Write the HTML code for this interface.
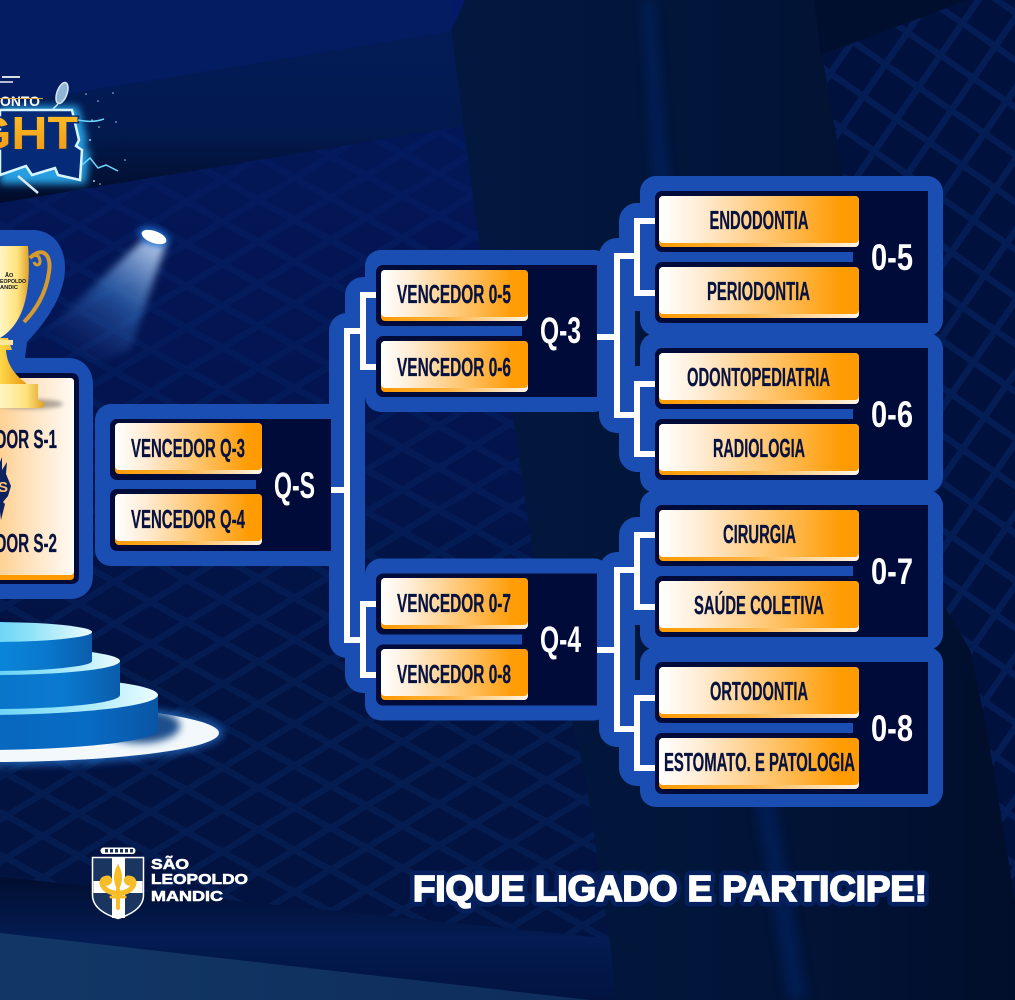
<!DOCTYPE html>
<html lang="pt"><head><meta charset="utf-8"><title>Chaveamento</title>
<style>html,body{margin:0;padding:0;background:#021242}svg{display:block}
text{font-family:"Liberation Sans",sans-serif;font-weight:700}</style></head>
<body>
<svg xmlns="http://www.w3.org/2000/svg" width="1015" height="1000" viewBox="0 0 1015 1000">
<defs>
<pattern id="p2" width="10" height="10" patternUnits="userSpaceOnUse" patternTransform="matrix(3.6,2.0,3.6,-2.2,216,600)"><rect width="10" height="10" fill="#021241"/><rect width="10" height="1.8" fill="#041c50"/><rect width="1.8" height="10" fill="#041c50"/></pattern>
<pattern id="p3" width="10" height="10" patternUnits="userSpaceOnUse" patternTransform="matrix(3.3,2.3,2.2,-3.2,958,308)"><rect width="10" height="10" fill="#01113e"/><rect width="10" height="1.6" fill="#041d54"/><rect width="1.6" height="10" fill="#041d54"/></pattern>
<linearGradient id="lift" x1="0" y1="0" x2="0" y2="1"><stop offset="0" stop-color="#04196a" stop-opacity=".55"/><stop offset=".45" stop-color="#04196a" stop-opacity=".4"/><stop offset="1" stop-color="#04196a" stop-opacity="0"/></linearGradient>
<linearGradient id="col" x1="0" y1="0" x2="1" y2="0"><stop offset="0" stop-color="#03183f"/><stop offset=".5" stop-color="#021539"/><stop offset="1" stop-color="#010e2b"/></linearGradient>
<linearGradient id="beam" x1="0" y1="0" x2="0" y2="1"><stop offset="0" stop-color="#031c58"/><stop offset=".6" stop-color="#021a4e"/><stop offset="1" stop-color="#020c2a"/></linearGradient>
<linearGradient id="beam2" x1="0" y1="0" x2="0" y2="1"><stop offset="0" stop-color="#020e30"/><stop offset=".5" stop-color="#031c52"/><stop offset="1" stop-color="#021340"/></linearGradient>
<linearGradient id="floor" x1="0" y1="0" x2="1" y2="0"><stop offset="0" stop-color="#123766"/><stop offset="1" stop-color="#0e2d5c"/></linearGradient>
<linearGradient id="bg" gradientUnits="objectBoundingBox" x1="0" y1="0" x2="1" y2="0"><stop offset="0" stop-color="#fff"/><stop offset=".2" stop-color="#ffedd6"/><stop offset=".65" stop-color="#ffba52"/><stop offset=".9" stop-color="#ff9c05"/><stop offset="1" stop-color="#ff9a00"/></linearGradient>
<linearGradient id="bg2" x1="0" y1="0" x2="1" y2="0"><stop offset="0" stop-color="#ff9a00"/><stop offset=".45" stop-color="#ffb340"/><stop offset="1" stop-color="#fff6ea"/></linearGradient>
<linearGradient id="card" gradientUnits="userSpaceOnUse" x1="-40" y1="0" x2="74" y2="0"><stop offset="0" stop-color="#ffb95a"/><stop offset=".6" stop-color="#ffe2bd"/><stop offset="1" stop-color="#fffaf4"/></linearGradient>
<linearGradient id="gold" x1="0" y1="0" x2="1" y2="0"><stop offset="0" stop-color="#fff6c4"/><stop offset=".6" stop-color="#ffe27c"/><stop offset="1" stop-color="#e0a227"/></linearGradient>
<linearGradient id="gold2" x1="0" y1="0" x2="1" y2="0"><stop offset="0" stop-color="#ffd84a"/><stop offset="1" stop-color="#e89a12"/></linearGradient>
<linearGradient id="t1" gradientUnits="userSpaceOnUse" x1="-20" y1="0" x2="92" y2="0"><stop offset="0" stop-color="#0a8ae0"/><stop offset=".6" stop-color="#0a78cc"/><stop offset="1" stop-color="#0b5cab"/></linearGradient>
<linearGradient id="t2" gradientUnits="userSpaceOnUse" x1="-20" y1="0" x2="120" y2="0"><stop offset="0" stop-color="#0a74c8"/><stop offset=".6" stop-color="#0a7ad0"/><stop offset="1" stop-color="#0b5cab"/></linearGradient>
<linearGradient id="t3" gradientUnits="userSpaceOnUse" x1="-20" y1="0" x2="158" y2="0"><stop offset="0" stop-color="#0866bd"/><stop offset=".6" stop-color="#086cc4"/><stop offset="1" stop-color="#0a55a5"/></linearGradient>
<linearGradient id="top" x1="0" y1="0" x2="1" y2="0"><stop offset=".3" stop-color="#38c0f5"/><stop offset=".7" stop-color="#8fe2f8"/><stop offset="1" stop-color="#eafcff"/></linearGradient>
<linearGradient id="cone" gradientUnits="userSpaceOnUse" x1="150" y1="240" x2="70" y2="355"><stop offset="0" stop-color="#cfe4ff" stop-opacity=".85"/><stop offset=".5" stop-color="#3a7fd4" stop-opacity=".5"/><stop offset="1" stop-color="#3050b0" stop-opacity="0"/></linearGradient>
<linearGradient id="tt" x1="0" y1="0" x2="0" y2="1"><stop offset="0" stop-color="#ffc12b"/><stop offset="1" stop-color="#f09512"/></linearGradient>
<filter id="b4" x="-50%" y="-50%" width="200%" height="200%"><feGaussianBlur stdDeviation="4"/></filter>
<filter id="b2" x="-50%" y="-50%" width="200%" height="200%"><feGaussianBlur stdDeviation="2"/></filter>
<filter id="b5" x="-100%" y="-20%" width="300%" height="140%"><feGaussianBlur stdDeviation="5"/></filter>
<clipPath id="floorclip"><ellipse cx="-10" cy="733" rx="229" ry="29"/></clipPath>
<g id="b200"><rect width="200" height="51" rx="4" fill="url(#bg2)"/><rect width="200" height="47" rx="4" fill="url(#bg)"/></g>
<g id="b147"><rect width="147" height="51" rx="4" fill="url(#bg2)"/><rect width="147" height="47" rx="4" fill="url(#bg)"/></g>
<g id="grp8">
<rect x="640" y="176" width="303" height="160" rx="16" fill="#1b4eb3"/>
<rect x="655" y="191" width="210" height="61" rx="7" fill="#010b39"/>
<rect x="655" y="262" width="210" height="61" rx="7" fill="#010b39"/>
<rect x="853" y="191" width="75" height="132" fill="#010b39"/>
</g>
<g id="grpQ">
<rect x="365" y="250" width="245" height="162" rx="16" fill="#1b4eb3"/>
<rect x="376" y="265" width="160" height="61" rx="7" fill="#010b39"/>
<rect x="376" y="336" width="160" height="61" rx="7" fill="#010b39"/>
<rect x="522" y="265" width="75" height="132" fill="#010b39"/>
</g>
</defs>

<!-- background -->
<rect width="1015" height="1000" fill="url(#p2)"/>
<rect x="0" y="100" width="620" height="580" fill="url(#lift)"/>
<rect x="0" y="0" width="500" height="110" fill="#04196a"/>
<polygon points="815,0 1015,0 1015,1000 815,1000" fill="url(#p3)"/>
<polygon points="0,105 470,27 470,125 0,203" fill="url(#beam)"/>
<polygon points="0,0 452,0 452,31 0,105" fill="#041c62"/>
<polygon points="0,877 625,940 625,1000 0,1000" fill="url(#beam2)"/>
<polygon points="0,933 590,1000 0,1000" fill="url(#floor)"/>
<polygon points="465,0 814,0 822,55 843,175 870,350 935,590 970,650 985,720 997,790 1015,900 1015,1000 615,1000 611,950 586,780 534,560 512,412 480,250 451,30" fill="url(#col)"/>
<polygon points="814,0 968,0 821,55" fill="#010f2f"/>
<polygon points="642,0 654,0 668,170 808,1000 788,1000 652,170" fill="#06276c" opacity=".5" filter="url(#b5)"/>

<!-- spotlight -->
<polygon points="143,240 166,244 130,350 62,375 30,345" fill="url(#cone)" filter="url(#b4)"/>
<ellipse cx="154" cy="237" rx="16" ry="8" transform="rotate(20 154 237)" fill="#2d8dff" opacity=".8" filter="url(#b4)"/>
<ellipse cx="154" cy="237" rx="13" ry="6" transform="rotate(20 154 237)" fill="#fff"/>

<!-- podium -->
<ellipse cx="0" cy="733" rx="224" ry="33" fill="#2b86ea" opacity=".6" filter="url(#b4)"/>
<ellipse cx="-10" cy="733" rx="229" ry="29" fill="#f2f8fc"/>
<g clip-path="url(#floorclip)"><ellipse cx="140" cy="726" rx="40" ry="17" fill="#1d4f8c" filter="url(#b4)"/></g>
<rect x="-198" y="695" width="356" height="35" fill="url(#t3)"/>
<ellipse cx="-20" cy="730" rx="178" ry="20" fill="url(#t3)"/>
<ellipse cx="-20" cy="695" rx="178" ry="20" fill="url(#top)"/>
<rect x="-130" y="661" width="250" height="34" fill="url(#t2)"/>
<ellipse cx="-5" cy="695" rx="125" ry="14" fill="url(#t2)"/>
<ellipse cx="-5" cy="661" rx="125" ry="14" fill="url(#top)"/>
<rect x="-112" y="632" width="204" height="29" fill="url(#t1)"/>
<ellipse cx="-10" cy="661" rx="102" ry="10" fill="url(#t1)"/>
<ellipse cx="-10" cy="632" rx="102" ry="10" fill="url(#top)"/>

<!-- top-left emblem -->
<g>
<polygon points="0,106 78,106 87,140 84,150 90,150 86,184 0,184" fill="#2fb8ff" opacity=".85" filter="url(#b4)"/>
<polygon points="0,110 72,110 79,140 76,146 82,150 80,180 58,175 55,168 32,175 26,166 0,175" fill="#052a78" stroke="#d5f6ff" stroke-width="2.5"/>
<text x="0" y="106" font-size="14" fill="#fff" textLength="40" lengthAdjust="spacingAndGlyphs">ONTO</text>
<rect x="0" y="98" width="43" height="1" fill="#d8a23a"/>
<text x="-72" y="149" font-size="46" fill="url(#tt)" stroke="#0a2f70" stroke-width="3" paint-order="stroke" textLength="150" lengthAdjust="spacingAndGlyphs">FIGHT</text>
<rect x="2" y="76" width="18" height="2" fill="#fff" opacity=".85"/>
<rect x="0" y="81" width="13" height="2" fill="#fff" opacity=".7"/>
<ellipse cx="62" cy="93" rx="5" ry="11" transform="rotate(20 62 93)" fill="#8fb5d6" stroke="#dde8f2" stroke-width="1.5"/>
<path d="M58,104 L52,110" stroke="#bfefff" stroke-width="1.5"/>
<path d="M18,176 L38,193" stroke="#d8e8f0" stroke-width="2.5"/>
<path d="M78,120 C88,122 95,122 104,119 M82,165 L90,158 L98,168 L106,165 L118,171" stroke="#6cd4ff" stroke-width="1.5" fill="none"/>
<g fill="#a9cdea"><circle cx="92" cy="120" r=".8"/><circle cx="99" cy="127" r=".8"/><circle cx="113" cy="93" r=".8"/><circle cx="98" cy="101" r=".8"/><circle cx="116" cy="122" r=".8"/><circle cx="90" cy="140" r="1"/><circle cx="125" cy="160" r=".8"/><circle cx="94" cy="181" r="1"/><circle cx="100" cy="184" r=".8"/><circle cx="86" cy="94" r=".8"/></g>
</g>

<!-- trophy and final -->
<path d="M0,230 H35 C55,232 65,248 65,268 C65,292 50,318 27,342 L25,358 H68 C84,358 93,370 93,385 V575 C93,590 84,599 70,599 H0 Z" fill="#1b4eb3"/>
<path d="M0,373 H71 Q79,373 79,381 V576 Q79,584 71,584 H0 Z" fill="#010b39"/>
<path d="M0,378 H70 Q74,378 74,382 V576 Q74,580 70,580 H0 Z" fill="#ff9a00"/>
<path d="M0,378 H70 Q74,378 74,382 V571 Q74,575 70,575 H0 Z" fill="url(#card)"/>
<text x="-57" y="448" font-size="26" fill="#07123f" stroke="#07123f" stroke-width=".3" textLength="114" lengthAdjust="spacingAndGlyphs">VENCEDOR S-1</text>
<text x="-57" y="552" font-size="26" fill="#07123f" stroke="#07123f" stroke-width=".3" textLength="114" lengthAdjust="spacingAndGlyphs">VENCEDOR S-2</text>
<polygon points="0,462 2,457 2,470 7,462 6,474 11,486 8,496 3,502 5,504 1,520 0,512" fill="#0d2260"/>
<text x="-2" y="492" font-size="15" fill="#ffc66f">S</text>
<ellipse cx="30" cy="404" rx="33" ry="5" fill="#6b6560" opacity=".55" filter="url(#b2)"/>
<path d="M30,258 C42,246 52,254 49,272 C46,295 34,312 24,322" fill="none" stroke="#d69a2e" stroke-width="4"/>
<path d="M30,258 C34,254 40,254 40,262 C40,266 35,266 34,262" fill="none" stroke="#d69a2e" stroke-width="3"/>
<path d="M0,246 H28 C31,285 27,322 0,338 Z" fill="url(#gold)"/>
<path d="M0,338 H8 L12,350 H6 C7,365 15,375 26,383 L26,388 H0 Z" fill="url(#gold2)"/>
<rect x="0" y="340" width="13" height="5" fill="#ffe79a"/>
<path d="M0,384 H38 V400 L44,402 V406 Q44,408 38,408 H0 Z" fill="url(#gold)"/>
<text x="5" y="277" font-size="5.5" fill="#111">ÃO</text>
<text x="0" y="283" font-size="5.5" fill="#111" textLength="26" lengthAdjust="spacingAndGlyphs">EOPOLDO</text>
<text x="0" y="289" font-size="5.5" fill="#111" textLength="18" lengthAdjust="spacingAndGlyphs">ANDIC</text>

<!-- connector blue backings -->
<g fill="none" stroke="#1b4eb3" stroke-width="36" stroke-linejoin="round">
<path d="M597,337 H617 M635,256 H617 V415 H635 M655,221 H637 V293 H655 M655,384 H637 V454 H655"/>
<path d="M597,651 H617 M635,570 H617 V729 H635 M655,535 H637 V607 H655 M655,698 H637 V768 H655"/>
<path d="M331,490 H347 M363,331 H347 V640 H363 M376,295 H363 V367 H376 M376,604 H363 V675 H376"/>
</g>

<use href="#grp8"/>
<use href="#grp8" y="157"/>
<use href="#grp8" y="314"/>
<use href="#grp8" y="471"/>
<use href="#grpQ"/>
<use href="#grpQ" y="308.5"/>

<!-- Q-S group -->
<rect x="95" y="404" width="250" height="162" rx="16" fill="#1b4eb3"/>
<rect x="110" y="419" width="160" height="61" rx="7" fill="#010b39"/>
<rect x="110" y="489" width="160" height="62" rx="7" fill="#010b39"/>
<rect x="256" y="419" width="75" height="132" fill="#010b39"/>

<!-- white connectors -->
<g fill="none" stroke="#fff" stroke-width="6" stroke-linejoin="miter">
<path d="M597,337 H617 M635,256 H617 V415 H635 M655,221 H637 V293 H655 M655,384 H637 V454 H655"/>
<path d="M597,650 H617 M635,570 H617 V729 H635 M655,535 H637 V607 H655 M655,698 H637 V768 H655"/>
<path d="M331,490 H347 M360,331 H347 V640 H360 M376,295 H363 V367 H376 M376,604 H363 V675 H376"/>
</g>

<!-- buttons -->
<use href="#b200" x="659" y="196"/><use href="#b200" x="659" y="267"/>
<use href="#b200" x="659" y="353"/><use href="#b200" x="659" y="424"/>
<use href="#b200" x="659" y="510"/><use href="#b200" x="659" y="581"/>
<use href="#b200" x="659" y="667"/><use href="#b200" x="659" y="738"/>
<use href="#b147" x="381" y="270"/><use href="#b147" x="381" y="341"/>
<use href="#b147" x="381" y="578"/><use href="#b147" x="381" y="649"/>
<use href="#b147" x="115" y="423"/><use href="#b147" x="115" y="494"/>

<!-- labels -->
<g font-size="26" fill="#07123f" stroke="#07123f" stroke-width=".3">
<text x="709.5" y="229" textLength="99" lengthAdjust="spacingAndGlyphs">ENDODONTIA</text>
<text x="707" y="300" textLength="103" lengthAdjust="spacingAndGlyphs">PERIODONTIA</text>
<text x="687" y="386" textLength="143" lengthAdjust="spacingAndGlyphs">ODONTOPEDIATRIA</text>
<text x="713" y="457" textLength="92" lengthAdjust="spacingAndGlyphs">RADIOLOGIA</text>
<text x="723" y="543" textLength="73" lengthAdjust="spacingAndGlyphs">CIRURGIA</text>
<text x="694" y="614" textLength="130" lengthAdjust="spacingAndGlyphs">SAÚDE COLETIVA</text>
<text x="710" y="700" textLength="98" lengthAdjust="spacingAndGlyphs">ORTODONTIA</text>
<text x="664" y="771" textLength="191" lengthAdjust="spacingAndGlyphs">ESTOMATO. E PATOLOGIA</text>
<text x="397" y="303" textLength="114" lengthAdjust="spacingAndGlyphs">VENCEDOR 0-5</text>
<text x="397" y="376" textLength="114" lengthAdjust="spacingAndGlyphs">VENCEDOR 0-6</text>
<text x="397" y="612" textLength="114" lengthAdjust="spacingAndGlyphs">VENCEDOR 0-7</text>
<text x="397" y="683" textLength="114" lengthAdjust="spacingAndGlyphs">VENCEDOR 0-8</text>
<text x="131" y="457" textLength="114" lengthAdjust="spacingAndGlyphs">VENCEDOR Q-3</text>
<text x="131" y="528" textLength="114" lengthAdjust="spacingAndGlyphs">VENCEDOR Q-4</text>
</g>
<g font-size="37" fill="#fff">
<text x="871" y="270" textLength="42" lengthAdjust="spacingAndGlyphs">0-5</text>
<text x="871" y="427" textLength="42" lengthAdjust="spacingAndGlyphs">0-6</text>
<text x="871" y="584" textLength="42" lengthAdjust="spacingAndGlyphs">0-7</text>
<text x="871" y="741" textLength="42" lengthAdjust="spacingAndGlyphs">0-8</text>
<text x="540" y="343" textLength="41" lengthAdjust="spacingAndGlyphs">Q-3</text>
<text x="540" y="652" textLength="41" lengthAdjust="spacingAndGlyphs">Q-4</text>
<text x="274" y="498" textLength="41" lengthAdjust="spacingAndGlyphs">Q-S</text>
</g>

<!-- footer logo -->
<g>
<rect x="100.5" y="847.5" width="35" height="6.5" rx="3.2" fill="#fff"/>
<g fill="#1a2f5e"><rect x="105" y="849" width="3" height="3.5"/><rect x="110" y="849" width="3" height="3.5"/><rect x="115" y="849" width="3" height="3.5"/><rect x="120" y="849" width="3" height="3.5"/><rect x="125" y="849" width="3" height="3.5"/><rect x="130" y="849" width="3" height="3.5"/></g>
<path d="M92.5,857.5 H143.5 V895 C143.5,908 130,915 118,918.5 C106,915 92.5,908 92.5,895 Z" fill="#1a3560" stroke="#fff" stroke-width="1.5"/>
<rect x="112" y="858" width="13" height="60" fill="#fff"/>
<rect x="93.5" y="881" width="49" height="12" fill="#fff"/>
<g fill="none" stroke="#f7bd27" stroke-width="5" stroke-linecap="round">
<path d="M118,866 C114,874 114,880 118,890 C122,880 122,874 118,866 Z" fill="#f7bd27" stroke-width="2"/>
<path d="M115,893 C102,892 97,878 108,878 C112,880 108,884 106,883"/>
<path d="M121,893 C134,892 139,878 128,878 C124,880 128,884 130,883"/>
<path d="M118,890 V908" stroke-width="4"/>
<path d="M111,897 H125" stroke-width="3"/>
</g>
<text x="151" y="869" font-size="15" fill="#fff" stroke="#fff" stroke-width=".6" textLength="38" lengthAdjust="spacingAndGlyphs">SÃO</text>
<text x="151" y="884" font-size="15" fill="#fff" stroke="#fff" stroke-width=".6" textLength="97" lengthAdjust="spacingAndGlyphs">LEOPOLDO</text>
<text x="151" y="901" font-size="15" fill="#fff" stroke="#fff" stroke-width=".6" textLength="72" lengthAdjust="spacingAndGlyphs">MANDIC</text>
</g>

<!-- tagline -->
<text x="413" y="901" font-size="36" fill="#fff" stroke="#05205c" stroke-width="11" stroke-linejoin="round" paint-order="stroke" textLength="514" lengthAdjust="spacingAndGlyphs">FIQUE LIGADO E PARTICIPE!</text>
<text x="413" y="901" font-size="36" fill="#fff" stroke="#fff" stroke-width="1.8" textLength="514" lengthAdjust="spacingAndGlyphs">FIQUE LIGADO E PARTICIPE!</text>
</svg>
</body></html>
